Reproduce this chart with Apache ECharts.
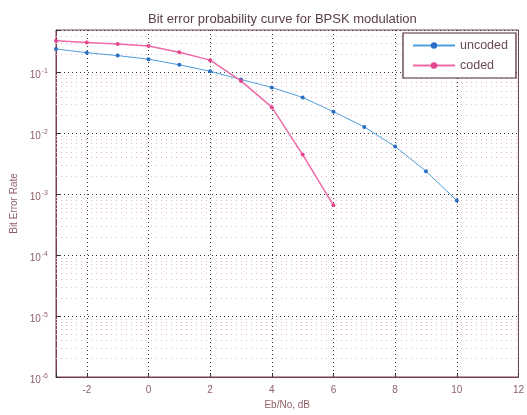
<!DOCTYPE html>
<html>
<head>
<meta charset="utf-8">
<script src="https://cdn.jsdelivr.net/npm/echarts@6/dist/echarts.min.js"></script>
<style>html,body{margin:0;padding:0;background:#fff}#c{width:527px;height:415px}</style>
</head>
<body>
<div id="c"></div>
<script>
var titleText = 'Bit error probability curve for BPSK modulation';
var xLabel = 'Eb/No, dB';
var yLabel = 'Bit Error Rate';
var seriesNames = ['uncoded', 'coded'];
var ebnoUncoded = [-3, -2, -1, 0, 1, 2, 3, 4, 5, 6, 7, 8, 9, 10];
var berUncoded = [0.244, 0.212, 0.19, 0.166, 0.134, 0.105, 0.077, 0.057, 0.039, 0.0228, 0.0128, 0.0061, 0.0024, 0.00079];
var ebnoCoded = [-3, -2, -1, 0, 1, 2, 3, 4, 5, 6];
var berCoded = [0.332, 0.313, 0.294, 0.272, 0.216, 0.16, 0.073, 0.027, 0.0045, 0.00066];
var xMin = -3, xMax = 12;
var yMin = 1e-6, yMax = 0.5;

function pairs(xs, ys) { return xs.map(function (x, i) { return [x, ys[i]]; }); }

// minor log grid lines (2..9 x each decade), drawn as lines through the axes
var minorLines = [];
for (var e = -6; e <= -1; e++) {
  for (var m = 2; m <= 9; m++) {
    var v = m * Math.pow(10, e);
    if (v < yMax) minorLines.push({ coords: [[xMin, v], [xMax, v]] });
  }
}

var labelColor = '#8e5f68';
var chart = echarts.init(document.getElementById('c'), null, { renderer: 'canvas' });
chart.setOption({
  animation: false,
  backgroundColor: '#ffffff',
  textStyle: { fontFamily: 'Liberation Sans, Arial, sans-serif' },
  title: {
    text: titleText,
    left: 143, top: 8,
    textStyle: { fontSize: 13, fontWeight: 'normal', color: '#5a4048', fontFamily: 'Liberation Sans, Arial, sans-serif' }
  },
  grid: { left: 56, right: 6, top: 30, bottom: 32, show: true, borderColor: '#7a3f4c', borderWidth: 1, backgroundColor: 'transparent' },
  legend: {
    top: 33, left: 403,
    orient: 'vertical',
    backgroundColor: '#ffffff',
    borderColor: '#4a2a30', borderWidth: 1.2,
    padding: [6, 8, 6, 9],
    itemGap: 7,
    itemWidth: 42, itemHeight: 8,
    textStyle: { fontSize: 12.5, color: '#6a4a55' },
    data: seriesNames
  },
  xAxis: {
    type: 'value', min: xMin, max: xMax,
    minInterval: 2, maxInterval: 2, splitNumber: 7,
    name: xLabel, nameLocation: 'middle', nameGap: 23,
    nameTextStyle: { fontSize: 10, color: labelColor },
    axisLine: { show: true, onZero: false, lineStyle: { color: '#7a3f4c' } },
    axisTick: { show: true, inside: true, length: 4, lineStyle: { color: '#333' } },
    axisLabel: {
      fontSize: 10, color: labelColor, margin: 8,
      formatter: function (v) { return (Math.round(v) % 2 === 0) ? String(v) : ''; }
    },
    splitLine: { show: true, lineStyle: { color: '#3a3a3a', type: [1, 3], width: 1 } }
  },
  yAxis: {
    type: 'log', logBase: 10, min: yMin, max: yMax,
    name: yLabel, nameLocation: 'middle', nameGap: 33,
    nameTextStyle: { fontSize: 10, color: labelColor },
    axisLine: { show: true, onZero: false, lineStyle: { color: '#7a3f4c' } },
    axisTick: { show: true, inside: true, length: 4, lineStyle: { color: '#333' } },
    axisLabel: {
      color: labelColor, margin: 8,
      formatter: function (v) {
        var l = Math.log10(v);
        if (Math.abs(l - Math.round(l)) > 1e-6) return '';
        return '{b|10}{s|' + Math.round(l) + '}';
      },
      rich: {
        b: { fontSize: 10, color: labelColor, padding: [6, 0, 0, 0] },
        s: { fontSize: 7, color: labelColor, padding: [0, 0, 2, 1] }
      }
    },
    splitLine: { show: true, lineStyle: { color: '#3a3a3a', type: [1, 3], width: 1 } }
  },
  series: [
    {
      name: 'minorGrid', type: 'lines', coordinateSystem: 'cartesian2d',
      silent: true, z: 1,
      lineStyle: { color: '#e4b9cb', type: [1, 4], width: 1, opacity: 1 },
      data: minorLines
    },
    {
      name: seriesNames[0], type: 'line',
      data: pairs(ebnoUncoded, berUncoded),
      symbol: 'circle', symbolSize: 4, showSymbol: true,
      itemStyle: { color: '#2b6fc4' },
      lineStyle: { color: '#4f9fdc', width: 1 },
      z: 5
    },
    {
      name: seriesNames[1], type: 'line',
      data: pairs(ebnoCoded, berCoded),
      symbol: 'circle', symbolSize: 4, showSymbol: true,
      itemStyle: { color: '#e2478f' },
      lineStyle: { color: '#ee6aa9', width: 1.5 },
      z: 6
    }
  ]
});
</script>
</body>
</html>
